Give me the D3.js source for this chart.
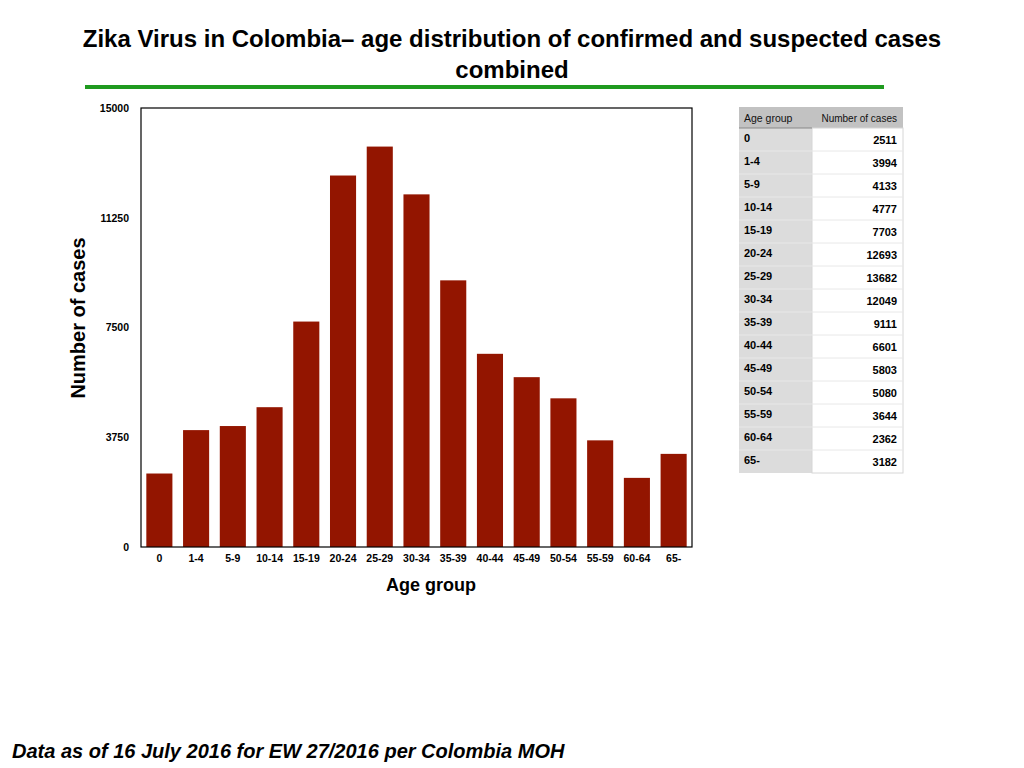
<!DOCTYPE html>
<html><head><meta charset="utf-8">
<script src="https://cdn.jsdelivr.net/npm/d3@7"></script>
<style>
body{margin:0;background:#fff;}
svg{display:block;}
</style></head>
<body>
<svg id="c" width="1024" height="768"></svg>
<script>
const categories = ["0","1-4","5-9","10-14","15-19","20-24","25-29","30-34","35-39","40-44","45-49","50-54","55-59","60-64","65-"];
const cases = [2511,3994,4133,4777,7703,12693,13682,12049,9111,6601,5803,5080,3644,2362,3182];
const yTicks = [0,3750,7500,11250,15000];

const svg = d3.select("#c");
const helv = "'Liberation Sans', Arial, Helvetica, sans-serif";

// Title
svg.append("text").attr("x",512).attr("y",47).attr("text-anchor","middle")
  .style("font-family",helv).style("font-weight","bold").style("font-size","24px").attr("fill","#000")
  .text("Zika Virus in Colombia\u2013  age distribution of confirmed and suspected cases");
svg.append("text").attr("x",512).attr("y",78).attr("text-anchor","middle")
  .style("font-family",helv).style("font-weight","bold").style("font-size","24px").attr("fill","#000")
  .text("combined");
svg.append("rect").attr("x",85).attr("y",85).attr("width",799).attr("height",4).attr("fill","#1f9a1f");

// Chart
const m = {l:141, t:108, r:692, b:547};
const x = d3.scaleBand().domain(categories).range([m.l,m.r]).paddingInner(0.29).paddingOuter(0.145);
const y = d3.scaleLinear().domain([0,15000]).range([m.b,m.t]);

svg.append("g").selectAll("rect").data(cases).join("rect")
  .attr("x",(d,i)=>x(categories[i])).attr("width",x.bandwidth())
  .attr("y",d=>y(d)).attr("height",d=>y(0)-y(d)).attr("fill","#931500");

svg.append("rect").attr("x",m.l).attr("y",m.t).attr("width",m.r-m.l).attr("height",m.b-m.t)
  .attr("fill","none").attr("stroke","#000").attr("stroke-width",1.2);

const ya = svg.append("g").attr("transform",`translate(${m.l},0)`)
  .call(d3.axisLeft(y).tickValues(yTicks).tickSize(0).tickPadding(12).tickFormat(d3.format("d")));
ya.select(".domain").remove();
ya.selectAll("text").style("font-family",helv).style("font-weight","bold").style("font-size","10.5px").attr("fill","#000");

const xa = svg.append("g").attr("transform",`translate(0,${m.b})`)
  .call(d3.axisBottom(x).tickSize(0).tickPadding(8));
xa.select(".domain").remove();
xa.selectAll("text").style("font-family",helv).style("font-weight","bold").style("font-size","10.5px").attr("fill","#000");

svg.append("text").attr("transform","translate(85,318) rotate(-90)").attr("text-anchor","middle")
  .style("font-family",helv).style("font-weight","bold").style("font-size","20px").text("Number of cases");
svg.append("text").attr("x",431).attr("y",591).attr("text-anchor","middle")
  .style("font-family",helv).style("font-weight","bold").style("font-size","18px").text("Age group");

// Table
const tx = 739, tc = 812, tr = 903, ty = 107, hh = 21, rh = 23;
const tg = svg.append("g");
tg.append("rect").attr("x",tx).attr("y",ty).attr("width",tr-tx).attr("height",hh).attr("fill","#c2c2c2");
tg.append("text").attr("x",tx+5).attr("y",ty+15).style("font-family",helv).style("font-size","10.5px").attr("fill","#111").text("Age group");
tg.append("text").attr("x",tr-6).attr("y",ty+15).attr("text-anchor","end").style("font-family",helv).style("font-size","10px").attr("fill","#111").text("Number of cases");
tg.append("rect").attr("x",tx).attr("y",ty+hh).attr("width",tc-tx).attr("height",rh*categories.length).attr("fill","#dcdcdc");
tg.append("rect").attr("x",tc).attr("y",ty+hh).attr("width",tr-tc).attr("height",rh*categories.length).attr("fill","#fff")
  .attr("stroke","#d6d6d6").attr("stroke-width",1);
tg.append("line").attr("x1",tx).attr("x2",tc).attr("y1",ty+hh).attr("y2",ty+hh).attr("stroke","#888").attr("stroke-width",1);
const rows = tg.selectAll("g.row").data(categories).join("g").attr("class","row")
  .attr("transform",(d,i)=>`translate(0,${ty+hh+i*rh})`);
rows.filter((d,i)=>i>0).append("line").attr("x1",tx).attr("x2",tr).attr("y1",0).attr("y2",0).attr("stroke","#e8e8e8").attr("stroke-width",1);
rows.append("text").attr("x",tx+5).attr("y",14).style("font-family",helv).style("font-weight","bold").style("font-size","11px").attr("fill","#000").text(d=>d);
rows.append("text").attr("x",tr-6).attr("y",16).attr("text-anchor","end").style("font-family",helv).style("font-weight","bold").style("font-size","11px").attr("fill","#000").text((d,i)=>cases[i]);

// Footer
svg.append("text").attr("x",12).attr("y",758)
  .style("font-family",helv).style("font-weight","bold").style("font-style","italic").style("font-size","20px")
  .text("Data as of 16 July 2016 for EW 27/2016 per Colombia MOH");
</script>
</body></html>
